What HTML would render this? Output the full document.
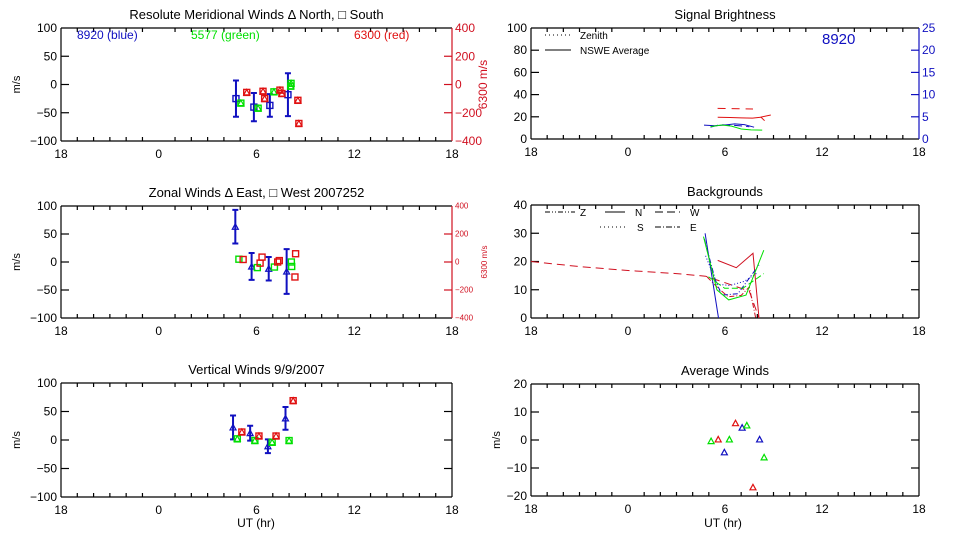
<!DOCTYPE html>
<html><head><meta charset="utf-8"><style>
html,body{margin:0;padding:0;background:#fff;}
svg{display:block;font-family:"Liberation Sans",sans-serif;}
</style></head><body>
<svg id="c" width="960" height="540" viewBox="0 0 960 540"></svg>
<script>
// ---------- DATA ----------
const merBlueX=[4.74,5.84,6.82,7.93];
const merBlueY=[-25,-40,-37,-18];
const merBlueErr=[32,25,20,38];
const merGreenX=[5.04,6.1,7.07,8.1,8.12];
const merGreenY=[-33,-42,-13,-3,2];
const merRedX=[5.4,6.4,6.5,7.44,7.56,8.54,8.6];
const merRedY=[-56,-48,-100,-40,-64,-112,-276];
const zonBlueX=[4.7,5.7,6.75,7.85];
const zonBlueY=[63,-8,-12,-17];
const zonBlueErr=[30,24,21,40];
const zonGreenX=[4.92,6.05,7.1,8.14,8.16];
const zonGreenY=[5,-10,-9,0,-8];
const zonRedX=[5.18,6.22,6.34,7.3,7.4,8.4,8.36];
const zonRedY=[18,-8,35,0,10,59,-107];
const verBlueX=[4.56,5.61,6.7,7.78];
const verBlueY=[22,12,-11,38];
const verBlueErr=[21,13,12,20];
const verGreenX=[4.82,5.9,6.96,8.0];
const verGreenY=[2,-1,-4,-1];
const verRedX=[5.1,6.15,7.2,8.25];
const verRedY=[14,7,7,69];
const sigRedDashX=[5.54,6.2,6.9,7.73];
const sigRedDashY=[27.6,27.4,27.2,27.0];
const sigRedX=[5.55,6.3,7.0,7.7,8.2,8.83];
const sigRedY=[19.6,19.4,19.0,18.8,19.6,21.6];
const sigRed2X=[8.2,8.45];
const sigRed2Y=[20.0,16.5];
const sigBlueX=[4.7,5.4,6.0,6.6,7.2,7.8];
const sigBlueY=[12.5,12.0,12.6,13.6,13.0,10.6];
const sigBlue2X=[5.1,5.7,6.3,6.9,7.5];
const sigBlue2Y=[10.6,13.0,12.4,12.0,11.0];
const sigGreenX=[5.1,5.8,6.4,7.0,7.6,8.3];
const sigGreenY=[11.2,12.6,11.6,9.0,8.2,8.0];
const bgRedDashX=[-6,-3,0,3,4.8,6,7.5,8.1];
const bgRedDashY=[20,18.2,16.8,15.7,14.8,12.5,9.5,0];
const bgRedX=[5.55,6.7,7.73,8.1];
const bgRedY=[20.4,17.8,22.9,0];
const bgRed2X=[4.9,5.5,6.2,7.0,7.5,7.9];
const bgRed2Y=[14.5,11,7.5,8,11,0];
const bgBlueX=[4.77,5.6];
const bgBlueY=[30,0];
const bgBlue2X=[4.72,5.4,5.8,6.8,8.1];
const bgBlue2Y=[28,13.5,8.1,8.6,18.8];
const bgBlue3X=[4.8,5.5,6.3,7.2,8.0];
const bgBlue3Y=[22,12,11.5,13,16];
const bgGreenX=[4.67,5.5,6.23,7.3,8.4];
const bgGreenY=[28.8,10,6.4,8.1,24];
const bgGreen2X=[4.98,5.98,7.1,8.4];
const bgGreen2Y=[14.6,10.5,10.5,15.7];
const avgRedX=[5.58,6.65,7.73];
const avgRedY=[0.2,6.0,-16.9];
const avgBlueX=[5.96,7.06,8.14];
const avgBlueY=[-4.4,4.4,0.2];
const avgGreenX=[5.14,6.27,7.35,8.42];
const avgGreenY=[-0.4,0.2,5.2,-6.2];
const xTickLabels=["18","0","6","12","18"];

// ---------- DRAW ----------
const NS="http://www.w3.org/2000/svg";
const svg=document.getElementById('c');
const BLUE="#1010c0",GREEN="#00e000",RED="#e01010",DRED="#d01020";
function el(tag,attrs,parent){const e=document.createElementNS(NS,tag);for(const k in attrs)e.setAttribute(k,attrs[k]);(parent||svg).appendChild(e);return e;}
function txt(s,x,y,opt,parent){const t=el('text',Object.assign({x:x,y:y,'font-size':12,fill:'#000'},opt||{}),parent);t.textContent=s;return t;}

function makePanel(name,L,R,T,B,ymin,ymax,ystep){
  const g=el('g',{});
  
  
  const sx=h=>L+(h+6)/24*(R-L);
  const sy=v=>B-(v-ymin)/(ymax-ymin)*(B-T);
  return {g,sx,sy,L,R,T,B,ymin,ymax,ystep};
}
function frame(p,opts){
  const g=p.g; opts=opts||{};
  const ax=el('g',{stroke:'#000','stroke-width':1.2,fill:'none'},g);
  
  
  el('line',{x1:p.L,y1:p.B,x2:p.R,y2:p.B},ax);
  el('line',{x1:p.L,y1:p.T,x2:p.R,y2:p.T},ax);
  el('line',{x1:p.L,y1:p.T,x2:p.L,y2:p.B},ax);
  if(!opts.rightAxis) el('line',{x1:p.R,y1:p.T,x2:p.R,y2:p.B},ax);
  for(let h=-6;h<=18;h++){
    const x=p.sx(h),len=(h%6===0)?0:4;
    if(len){el('line',{x1:x,y1:p.B,x2:x,y2:p.B-len},ax);el('line',{x1:x,y1:p.T,x2:x,y2:p.T+len},ax);}
  }
  xTickLabels.forEach((s,i)=>{const t=txt(s,p.sx(-6+i*6),p.B+17,{'text-anchor':'middle'},g);
    
    });
  for(let v=p.ymin;v<=p.ymax+1e-9;v+=p.ystep){
    const y=p.sy(v);
    if(v>p.ymin&&v<p.ymax){el('line',{x1:p.L,y1:y,x2:p.L+8,y2:y},ax);
      if(!opts.rightAxis) el('line',{x1:p.R,y1:y,x2:p.R-8,y2:y},ax);}
    const t=txt(String(v).replace('-','\u2212'),p.L-4,y+4,{'text-anchor':'end'},g);
    
    
  }
}
function rightAxis(p,vmin,vmax,step,color,fs,labelText){
  const g=p.g;
  const a=el('g',{stroke:color,'stroke-width':1.2},g);
  
  
  el('line',{x1:p.R,y1:p.T,x2:p.R,y2:p.B},a);
  const ry=v=>p.B-(v-vmin)/(vmax-vmin)*(p.B-p.T);
  for(let v=vmin;v<=vmax+1e-9;v+=step){
    const y=ry(v);
    if(v>vmin&&v<vmax) el('line',{x1:p.R,y1:y,x2:p.R-8,y2:y},a);
    const t=txt(String(v).replace('-','\u2212'),p.R+3,y+fs/3,{fill:color,'font-size':fs},g);
    
    
  }
  if(labelText){const cy=(p.T+p.B)/2;const t=txt(labelText,p.R+35,cy,{fill:color,'font-size':fs,'text-anchor':'middle',transform:'rotate(-90 '+(p.R+35)+' '+cy+')'},g);
    
    }
  return ry;
}
function title(p,s){const t=txt(s,(p.L+p.R)/2,p.T-9,{'text-anchor':'middle','font-size':13},p.g);
  
  }
function ytitle(p,x){const cy=(p.T+p.B)/2;const t=txt('m/s',x,cy,{'text-anchor':'middle','font-size':11,transform:'rotate(-90 '+x+' '+cy+')'},p.g);
  
  }
function tri(g,x,y,c){const m=el('path',{d:`M${x-3},${y+2.5}L${x},${y-3}L${x+3},${y+2.5}Z`,fill:'none',stroke:c,'stroke-width':1.2},g);
  
  }
function sq(g,x,y,c){const m=el('rect',{x:x-3,y:y-3,width:6,height:6,fill:'none',stroke:c,'stroke-width':1.4},g);
  
  }
function errbar(g,x,y1,y2,c){const e=el('path',{d:`M${x},${y1}V${y2}M${x-3},${y1}H${x+3}M${x-3},${y2}H${x+3}`,stroke:c,'stroke-width':2,fill:'none'},g);
  
  }
function points(p,X,Y,c,kind,ry,E){
  const g=el('g',{},p.g);
  
  
  const yf=ry||p.sy;
  X.forEach((h,i)=>{const x=p.sx(h),y=yf(Y[i]);
    if(E) errbar(g,x,yf(Y[i]+E[i]),yf(Y[i]-E[i]),c);
    if(kind==='sq'||kind==='both') sq(g,x,y,c);
    if(kind==='tri'||kind==='both') tri(g,x,y,c);});
}
function line(p,X,Y,c,dash){
  const d=X.map((h,i)=>(i?'L':'M')+p.sx(h).toFixed(1)+','+p.sy(Y[i]).toFixed(1)).join('');
  const l=el('path',{d:d,fill:'none',stroke:c,'stroke-width':1,'stroke-dasharray':dash||'none'},p.g);
  
  
}

const p1=makePanel('meridional-winds-panel',61,452,28,141,-100,100,50);
frame(p1,{rightAxis:true});title(p1,'Resolute Meridional Winds \u0394 North, \u25a1 South');ytitle(p1,20);
const r1=rightAxis(p1,-400,400,200,DRED,12,'6300 m/s');
points(p1,merBlueX,merBlueY,BLUE,'sq',null,merBlueErr);
points(p1,merGreenX,merGreenY,GREEN,'both');
points(p1,merRedX,merRedY,RED,'both',r1);
[['8920 (blue)',77,BLUE],['5577 (green)',191,GREEN],['6300 (red)',354,RED]].forEach(a=>{const t=txt(a[0],a[1],39,{fill:a[2],'font-size':12},p1.g);
  
  });

const p2=makePanel('zonal-winds-panel',61,452,206,318,-100,100,50);
frame(p2,{rightAxis:true});title(p2,'Zonal Winds \u0394 East, \u25a1 West 2007252');ytitle(p2,20);
const r2=rightAxis(p2,-400,400,200,DRED,8,'6300 m/s');
points(p2,zonBlueX,zonBlueY,BLUE,'tri',null,zonBlueErr);
points(p2,zonGreenX,zonGreenY,GREEN,'sq');
points(p2,zonRedX,zonRedY,RED,'sq',r2);

const p3=makePanel('vertical-winds-panel',61,452,383,497,-100,100,50);
frame(p3);title(p3,'Vertical Winds 9/9/2007');ytitle(p3,20);
points(p3,verBlueX,verBlueY,BLUE,'tri',null,verBlueErr);
points(p3,verGreenX,verGreenY,GREEN,'both');
points(p3,verRedX,verRedY,RED,'both');
txt('UT (hr)',256,527,{'text-anchor':'middle'},p3.g);

const p4=makePanel('signal-brightness-panel',531,919,28,139,0,100,20);
frame(p4,{rightAxis:true});title(p4,'Signal Brightness');
rightAxis(p4,0,25,5,BLUE,12,null);
line(p4,sigRedDashX,sigRedDashY,RED,'8,6');
line(p4,sigRedX,sigRedY,RED);
line(p4,sigRed2X,sigRed2Y,RED);
line(p4,sigBlueX,sigBlueY,BLUE);
line(p4,sigBlue2X,sigBlue2Y,BLUE,'8,4');
line(p4,sigGreenX,sigGreenY,GREEN);
el('line',{x1:545,y1:35,x2:571,y2:35,stroke:'#000','stroke-dasharray':'1,3'},p4.g);
txt('Zenith',580,39,{'font-size':10},p4.g);
el('line',{x1:545,y1:50,x2:571,y2:50,stroke:'#000'},p4.g);
txt('NSWE Average',580,54,{'font-size':10},p4.g);
txt('8920',822,44,{'font-size':15,fill:BLUE},p4.g);

const p5=makePanel('backgrounds-panel',531,919,205,318,0,40,10);
frame(p5);title(p5,'Backgrounds');
line(p5,bgRedDashX,bgRedDashY,DRED,'8,5');
line(p5,bgRedX,bgRedY,DRED);
line(p5,bgRed2X,bgRed2Y,DRED,'5,2,1,2');
line(p5,bgBlueX,bgBlueY,BLUE);
line(p5,bgBlue2X,bgBlue2Y,BLUE,'5,2,1,2');
line(p5,bgBlue3X,bgBlue3Y,BLUE,'1,2');
line(p5,bgGreenX,bgGreenY,GREEN);
line(p5,bgGreen2X,bgGreen2Y,GREEN,'6,3');
[[545,575,212,'5,2,1,2,1,2','Z',580],[605,625,212,'none','N',635],[655,680,212,'8,4','W',690],[600,625,227,'1,3','S',637],[655,680,227,'6,2,1,2','E',690]].forEach(a=>{
  const l=el('line',{x1:a[0],y1:a[2],x2:a[1],y2:a[2],stroke:'#000','stroke-dasharray':a[3]},p5.g);
  
  
  const t=txt(a[4],a[5],a[2]+4,{'font-size':10},p5.g);
  
  });

const p6=makePanel('average-winds-panel',531,919,384,496,-20,20,10);
frame(p6);title(p6,'Average Winds');ytitle(p6,500);
points(p6,avgRedX,avgRedY,RED,'tri');
points(p6,avgBlueX,avgBlueY,BLUE,'tri');
points(p6,avgGreenX,avgGreenY,GREEN,'tri');
txt('UT (hr)',723,527,{'text-anchor':'middle'},p6.g);
</script>
</body></html>
